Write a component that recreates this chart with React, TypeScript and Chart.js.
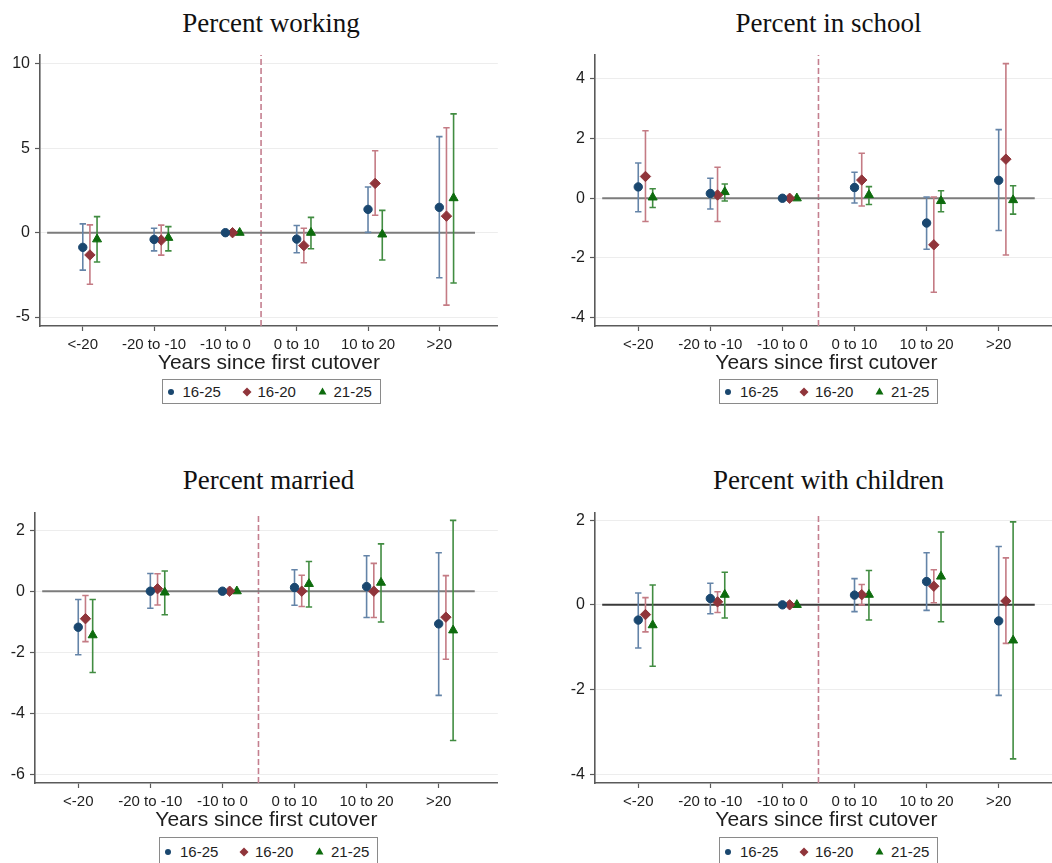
import React, { useEffect, useRef } from 'react';
import { Chart, registerables } from 'chart.js';

Chart.register(...registerables);

// ---------- shared categories ----------
const CATEGORIES = ['<-20', '-20 to -10', '-10 to 0', '0 to 10', '10 to 20', '>20'];
const CAT_X = [1, 2, 3, 4, 5, 6];
const GROUPS = ['16-25', '16-20', '21-25'];
const GROUP_SHIFT = [0, 0.1, 0.2];
const CUTOVER_X = 3.5;
const ZERO_SPAN = [0.5, 6.5];
const X_TITLE = 'Years since first cutover';

// ---------- Percent working ----------
const WORK_EST_1625 = [-0.87, -0.40, 0, -0.38, 1.38, 1.50];
const WORK_LO_1625 = [-2.22, -1.08, 0, -1.19, 0.02, -2.67];
const WORK_HI_1625 = [0.52, 0.26, 0, 0.43, 2.71, 5.69];
const WORK_EST_1620 = [-1.32, -0.44, 0, -0.77, 2.92, 0.98];
const WORK_LO_1620 = [-3.06, -1.33, 0, -1.78, 1.03, -4.29];
const WORK_HI_1620 = [0.46, 0.45, 0, 0.26, 4.86, 6.22];
const WORK_EST_2125 = [-0.39, -0.30, 0, 0.0, -0.10, 2.05];
const WORK_LO_2125 = [-1.74, -1.08, 0, -0.95, -1.62, -2.98];
const WORK_HI_2125 = [0.95, 0.36, 0, 0.91, 1.32, 7.04];
const WORK_TICKS = [-5, 0, 5, 10];

// ---------- Percent in school ----------
const SCHOOL_EST_1625 = [0.38, 0.16, 0, 0.36, -0.83, 0.60];
const SCHOOL_LO_1625 = [-0.45, -0.36, 0, -0.16, -1.71, -1.08];
const SCHOOL_HI_1625 = [1.18, 0.67, 0, 0.87, 0.04, 2.30];
const SCHOOL_EST_1620 = [0.73, 0.11, 0, 0.61, -1.56, 1.31];
const SCHOOL_LO_1620 = [-0.78, -0.78, 0, -0.26, -3.15, -1.90];
const SCHOOL_HI_1620 = [2.26, 1.04, 0, 1.51, 0.04, 4.51];
const SCHOOL_EST_2125 = [0.03, 0.21, 0, 0.11, -0.09, -0.06];
const SCHOOL_LO_2125 = [-0.31, -0.09, 0, -0.21, -0.45, -0.53];
const SCHOOL_HI_2125 = [0.32, 0.48, 0, 0.39, 0.25, 0.42];
const SCHOOL_TICKS = [-4, -2, 0, 2, 4];

// ---------- Percent married ----------
const MARRIED_EST_1625 = [-1.18, 0.0, 0, 0.12, 0.15, -1.07];
const MARRIED_LO_1625 = [-2.08, -0.56, 0, -0.46, -0.86, -3.41];
const MARRIED_HI_1625 = [-0.27, 0.58, 0, 0.70, 1.16, 1.26];
const MARRIED_EST_1620 = [-0.90, 0.08, 0, 0.0, 0.0, -0.85];
const MARRIED_LO_1620 = [-1.65, -0.45, 0, -0.50, -0.86, -2.23];
const MARRIED_HI_1620 = [-0.14, 0.57, 0, 0.52, 0.91, 0.51];
const MARRIED_EST_2125 = [-1.44, -0.04, 0, 0.24, 0.28, -1.28];
const MARRIED_LO_2125 = [-2.66, -0.77, 0, -0.52, -1.01, -4.89];
const MARRIED_HI_2125 = [-0.27, 0.66, 0, 0.97, 1.55, 2.32];
const MARRIED_TICKS = [-6, -4, -2, 0, 2];

// ---------- Percent with children ----------
const CHILD_EST_1625 = [-0.36, 0.15, 0, 0.23, 0.55, -0.38];
const CHILD_LO_1625 = [-1.02, -0.21, 0, -0.16, -0.13, -2.14];
const CHILD_HI_1625 = [0.28, 0.51, 0, 0.62, 1.23, 1.38];
const CHILD_EST_1620 = [-0.23, 0.07, 0, 0.24, 0.44, 0.09];
const CHILD_LO_1620 = [-0.64, -0.18, 0, 0.0, 0.05, -0.91];
const CHILD_HI_1620 = [0.17, 0.31, 0, 0.48, 0.83, 1.11];
const CHILD_EST_2125 = [-0.48, 0.24, 0, 0.24, 0.67, -0.84];
const CHILD_LO_2125 = [-1.45, -0.31, 0, -0.36, -0.40, -3.64];
const CHILD_HI_2125 = [0.47, 0.77, 0, 0.81, 1.72, 1.96];
const CHILD_TICKS = [-4, -2, 0, 2];

// ---------- styles ----------
const SANS = "'Liberation Sans', Arial, sans-serif";
const SERIF = "'Liberation Serif', 'Times New Roman', serif";
const AXIS_COLOR = '#5a5a5a';
const TEXT_COLOR = '#1e1e1e';
const SERIES_STYLE = [
  { marker: '#1a476f', ci: '#6484a8', shape: 'circle', radius: 4.2 },
  { marker: '#90353b', ci: '#c47b84', shape: 'rectRot', radius: 5.2 },
  { marker: '#0d6b0d', ci: '#418c41', shape: 'triangle', radius: 5.2 },
];

type PanelSpec = {
  title: string;
  est: number[][];
  lo: number[][];
  hi: number[][];
  ticks: number[];
  yMin: number;
  yMax: number;
  canvasLeft: number;
  canvasTop: number;
  canvasWidth: number;
  canvasHeight: number;
  yAxisWidth: number;
  titleBaseline: number;
  legendTop: number;
  legendTextY: number;
  legendHeight: number;
  zeroColor: string;
};

const PAD_TOP = 20;
const PAD_RIGHT = 2;
const X_AXIS_H = 50;

const PANELS: PanelSpec[] = [
  {
    title: 'Percent working',
    est: [WORK_EST_1625, WORK_EST_1620, WORK_EST_2125],
    lo: [WORK_LO_1625, WORK_LO_1620, WORK_LO_2125],
    hi: [WORK_HI_1625, WORK_HI_1620, WORK_HI_2125],
    ticks: WORK_TICKS, yMin: -5.53, yMax: 10.53,
    canvasLeft: 0, canvasTop: 35, canvasWidth: 504, canvasHeight: PAD_TOP + 271 + X_AXIS_H,
    yAxisWidth: 40, titleBaseline: 32, legendTop: 379, legendTextY: 391, legendHeight: 25,
    zeroColor: '#7c7c7c',
  },
  {
    title: 'Percent in school',
    est: [SCHOOL_EST_1625, SCHOOL_EST_1620, SCHOOL_EST_2125],
    lo: [SCHOOL_LO_1625, SCHOOL_LO_1620, SCHOOL_LO_2125],
    hi: [SCHOOL_HI_1625, SCHOOL_HI_1620, SCHOOL_HI_2125],
    ticks: SCHOOL_TICKS, yMin: -4.28, yMax: 4.8,
    canvasLeft: 550, canvasTop: 35, canvasWidth: 514, canvasHeight: PAD_TOP + 271 + X_AXIS_H,
    yAxisWidth: 45, titleBaseline: 32, legendTop: 379, legendTextY: 391, legendHeight: 25,
    zeroColor: '#7c7c7c',
  },
  {
    title: 'Percent married',
    est: [MARRIED_EST_1625, MARRIED_EST_1620, MARRIED_EST_2125],
    lo: [MARRIED_LO_1625, MARRIED_LO_1620, MARRIED_LO_2125],
    hi: [MARRIED_HI_1625, MARRIED_HI_1620, MARRIED_HI_2125],
    ticks: MARRIED_TICKS, yMin: -6.28, yMax: 2.56,
    canvasLeft: 0, canvasTop: 493, canvasWidth: 504, canvasHeight: PAD_TOP + 270 + X_AXIS_H,
    yAxisWidth: 35, titleBaseline: 489, legendTop: 837, legendTextY: 851, legendHeight: 32,
    zeroColor: '#7c7c7c',
  },
  {
    title: 'Percent with children',
    est: [CHILD_EST_1625, CHILD_EST_1620, CHILD_EST_2125],
    lo: [CHILD_LO_1625, CHILD_LO_1620, CHILD_LO_2125],
    hi: [CHILD_HI_1625, CHILD_HI_1620, CHILD_HI_2125],
    ticks: CHILD_TICKS, yMin: -4.21, yMax: 2.17,
    canvasLeft: 550, canvasTop: 493, canvasWidth: 514, canvasHeight: PAD_TOP + 270 + X_AXIS_H,
    yAxisWidth: 45, titleBaseline: 489, legendTop: 837, legendTextY: 851, legendHeight: 32,
    zeroColor: '#3a3a3a',
  },
];

function buildDatasets(p: PanelSpec) {
  const ds: any[] = [];
  // markers (first = drawn on top)
  GROUPS.forEach((g, gi) => {
    const st = SERIES_STYLE[gi];
    ds.push({
      label: g,
      data: CAT_X.map((c, i) => ({ x: c + GROUP_SHIFT[gi], y: p.est[gi][i] })),
      showLine: false,
      pointStyle: st.shape,
      pointRadius: st.radius,
      pointBackgroundColor: st.marker,
      pointBorderColor: st.marker,
      pointBorderWidth: 1,
    });
  });
  // confidence intervals with caps
  GROUPS.forEach((g, gi) => {
    const st = SERIES_STYLE[gi];
    const data: any[] = [];
    CAT_X.forEach((c, i) => {
      const lo = p.lo[gi][i];
      const hi = p.hi[gi][i];
      if (lo === hi) return;
      const x = c + GROUP_SHIFT[gi];
      data.push({ x, y: lo }, { x, y: hi }, { x, y: null });
    });
    ds.push({
      label: g + ' CI',
      data,
      showLine: true,
      spanGaps: false,
      borderColor: st.ci,
      borderWidth: 1.6,
      pointStyle: 'line',
      pointRadius: 3.2,
      pointBorderColor: st.ci,
      pointBackgroundColor: st.ci,
      pointBorderWidth: 1.6,
    });
  });
  // zero reference line
  ds.push({
    label: 'zero',
    data: [{ x: ZERO_SPAN[0], y: 0 }, { x: ZERO_SPAN[1], y: 0 }],
    showLine: true,
    borderColor: p.zeroColor,
    borderWidth: 2,
    pointRadius: 0,
  });
  // first cutover dashed line
  ds.push({
    label: 'cutover',
    data: [{ x: CUTOVER_X, y: p.yMin }, { x: CUTOVER_X, y: p.yMax }],
    showLine: true,
    borderColor: '#c47f8f',
    borderWidth: 1.6,
    borderDash: [6, 3],
    pointRadius: 0,
  });
  return ds;
}

function Panel({ p }: { p: PanelSpec }) {
  const ref = useRef<HTMLCanvasElement>(null);
  useEffect(() => {
    if (!ref.current) return;
    const chart = new Chart(ref.current, {
      type: 'scatter',
      data: { datasets: buildDatasets(p) },
      options: {
        responsive: false,
        animation: false,
        devicePixelRatio: 1,
        layout: { padding: { top: PAD_TOP, right: PAD_RIGHT, left: 0, bottom: 0 } },
        plugins: { legend: { display: false }, tooltip: { enabled: false }, title: { display: false } },
        scales: {
          x: {
            type: 'linear',
            min: 0.4,
            max: 6.82,
            afterBuildTicks: (s: any) => { s.ticks = CAT_X.map((v) => ({ value: v })); },
            afterFit: (s: any) => { s.height = X_AXIS_H; },
            ticks: {
              autoSkip: false,
              maxRotation: 0,
              minRotation: 0,
              padding: 5,
              color: TEXT_COLOR,
              font: { family: SANS, size: 15 },
              callback: (v: any) => {
                const idx = CAT_X.indexOf(Number(v));
                return idx >= 0 ? CATEGORIES[idx] : '';
              },
            },
            grid: { display: true, drawOnChartArea: false, drawTicks: true, tickLength: 5, tickColor: AXIS_COLOR, tickWidth: 1.2 },
            border: { display: true, color: AXIS_COLOR, width: 1.6 },
            title: { display: true, text: X_TITLE, color: TEXT_COLOR, font: { family: SANS, size: 21 }, padding: 0 },
          },
          y: {
            type: 'linear',
            min: p.yMin,
            max: p.yMax,
            afterBuildTicks: (s: any) => { s.ticks = p.ticks.map((v) => ({ value: v })); },
            afterFit: (s: any) => { s.width = p.yAxisWidth; },
            ticks: { padding: 5, color: TEXT_COLOR, font: { family: SANS, size: 16 } },
            grid: { display: true, drawOnChartArea: true, color: '#ededed', lineWidth: 1, drawTicks: true, tickLength: 5, tickColor: AXIS_COLOR, tickWidth: 1.2 },
            border: { display: true, color: AXIS_COLOR, width: 1.6 },
          },
        },
      } as any,
    });
    return () => chart.destroy();
  }, [p]);

  const plotLeft = p.canvasLeft + p.yAxisWidth;
  const plotRight = p.canvasLeft + p.canvasWidth - PAD_RIGHT;
  const center = (plotLeft + plotRight) / 2;
  const titleFont = 27;
  const titleLH = 30;
  const titleTop = p.titleBaseline - ((titleLH - 1.107 * titleFont) / 2 + 0.891 * titleFont);
  const legendW = 219;
  const legendLeft = center - legendW / 2;
  const textRel = p.legendTextY - p.legendTop;

  const itemText: React.CSSProperties = {
    position: 'absolute',
    top: textRel - 10,
    height: 20,
    lineHeight: '20px',
    fontFamily: SANS,
    fontSize: 15,
    color: TEXT_COLOR,
    whiteSpace: 'nowrap',
  };

  return (
    <>
      <div
        style={{
          position: 'absolute',
          left: center - 260,
          width: 520,
          top: titleTop,
          height: titleLH,
          lineHeight: titleLH + 'px',
          textAlign: 'center',
          fontFamily: SERIF,
          fontSize: titleFont,
          color: '#111',
          whiteSpace: 'nowrap',
        }}
      >
        {p.title}
      </div>
      <canvas
        ref={ref}
        width={p.canvasWidth}
        height={p.canvasHeight}
        style={{ position: 'absolute', left: p.canvasLeft, top: p.canvasTop, width: p.canvasWidth, height: p.canvasHeight }}
      />
      <div
        style={{
          position: 'absolute',
          left: legendLeft,
          top: p.legendTop,
          width: legendW,
          height: p.legendHeight,
          border: '1px solid #8a8a8a',
          boxSizing: 'border-box',
          background: '#fff',
        }}
      >
        <svg style={{ position: 'absolute', left: 4, top: textRel - 4 }} width={8} height={8}>
          <circle cx={4} cy={4} r={3} fill={SERIES_STYLE[0].marker} />
        </svg>
        <span style={{ ...itemText, left: 20 }}>{GROUPS[0]}</span>
        <svg style={{ position: 'absolute', left: 79, top: textRel - 5 }} width={10} height={10}>
          <polygon points="5,0.5 9.5,5 5,9.5 0.5,5" fill={SERIES_STYLE[1].marker} />
        </svg>
        <span style={{ ...itemText, left: 95 }}>{GROUPS[1]}</span>
        <svg style={{ position: 'absolute', left: 155, top: textRel - 5 }} width={9} height={8}>
          <polygon points="4.5,0.5 8.5,7.5 0.5,7.5" fill={SERIES_STYLE[2].marker} />
        </svg>
        <span style={{ ...itemText, left: 171 }}>{GROUPS[2]}</span>
      </div>
    </>
  );
}

export default function App() {
  return (
    <div
      style={{
        position: 'absolute',
        left: 0,
        top: 0,
        width: 1052,
        height: 863,
        overflow: 'hidden',
        background: '#ffffff',
      }}
    >
      {PANELS.map((p) => (
        <Panel key={p.title} p={p} />
      ))}
    </div>
  );
}
